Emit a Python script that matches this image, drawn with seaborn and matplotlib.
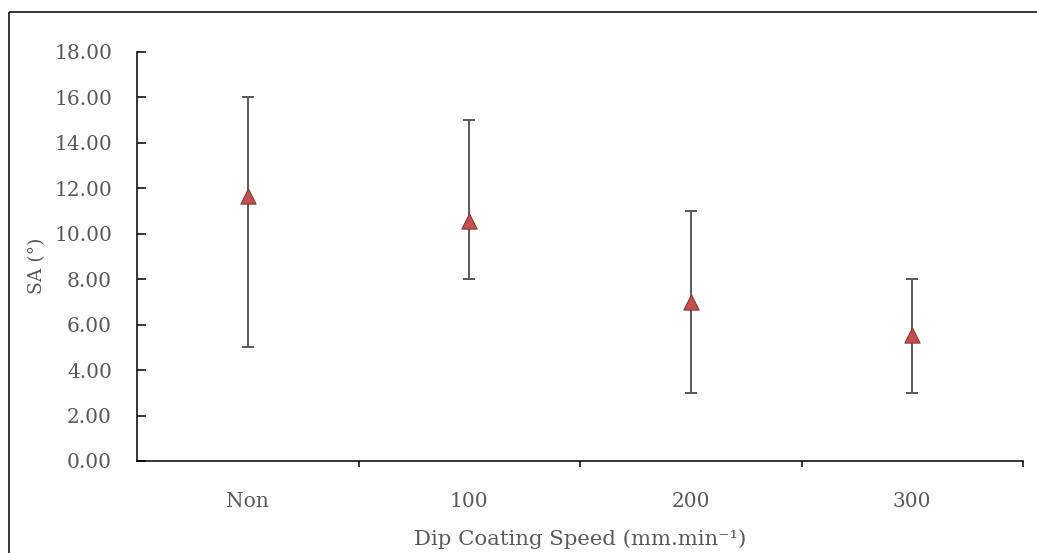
import matplotlib.pyplot as plt
import matplotlib.lines as mlines
import pandas as pd
import seaborn as sns

# Data
speeds = ['Non', '100', '200', '300']
sa_mean = [11.65, 10.55, 7.0, 5.55]
sa_low = [5.0, 8.0, 3.0, 3.0]
sa_high = [16.0, 15.0, 11.0, 8.0]

df = pd.DataFrame({'speed': speeds, 'sa': sa_mean, 'low': sa_low, 'high': sa_high})

sns.set_theme(style='white')
plt.rcParams['font.family'] = ['DejaVu Serif']

grey = '#595959'
fig = plt.figure(figsize=(10.37, 5.53), dpi=100)
ax = fig.add_axes([137 / 1037, 1 - 461 / 553, (1023 - 137) / 1037, (461 - 52) / 553])

# error bars (asymmetric)
yerr = [df['sa'] - df['low'], df['high'] - df['sa']]
ax.errorbar(df['speed'], df['sa'], yerr=yerr, fmt='none', ecolor=grey,
            elinewidth=1.4, capsize=4.5, capthick=1.4, zorder=2)
sns.scatterplot(data=df, x='speed', y='sa', marker='^', s=120,
                color='#C0504D', edgecolor='#8C3836', linewidth=0.8, zorder=3, ax=ax)

ax.set_xlim(-0.5, 3.5)
ax.set_ylim(0, 18)
ax.set_yticks(range(0, 19, 2))
ax.set_yticklabels([f'{v:.2f}' for v in range(0, 19, 2)])

# category boundaries carry the tick marks, labels sit between them
ax.set_xticks([0.5, 1.5, 2.5, 3.5])
ax.set_xticklabels([])
ax.set_xticks(range(len(speeds)), minor=True)
ax.set_xticklabels(speeds, minor=True)
ax.tick_params(axis='x', which='major', direction='out', length=4.5, width=1.1,
               color='black', bottom=True)
ax.tick_params(axis='x', which='minor', length=0, pad=22, labelsize=14.5, labelcolor=grey)
ax.tick_params(axis='y', direction='in', length=6.5, width=1.1, color='black',
               left=True, pad=18, labelsize=14.5, labelcolor=grey)

for side in ['top', 'right']:
    ax.spines[side].set_visible(False)
for side in ['left', 'bottom']:
    ax.spines[side].set_color('black')
    ax.spines[side].set_linewidth(1.1)

ax.set_xlabel('Dip Coating Speed (mm.min\u207b\u00b9)', fontsize=15.3, color=grey)
ax.set_ylabel('SA (°)', fontsize=13.5, color=grey)
ax.xaxis.set_label_coords(0.5, -0.168)
ax.yaxis.set_label_coords(-0.103, 0.477)

# chart frame (only left and top visible in the crop)
x0, y0 = 9 / 1037, 1 - 11.5 / 553
fig.add_artist(mlines.Line2D([x0, x0], [-0.1, y0], transform=fig.transFigure,
                             color='black', linewidth=1.1, solid_capstyle='butt'))
fig.add_artist(mlines.Line2D([x0, 1.1], [y0, y0], transform=fig.transFigure,
                             color='black', linewidth=1.1, solid_capstyle='butt'))

fig.savefig('out.png', dpi=100)
